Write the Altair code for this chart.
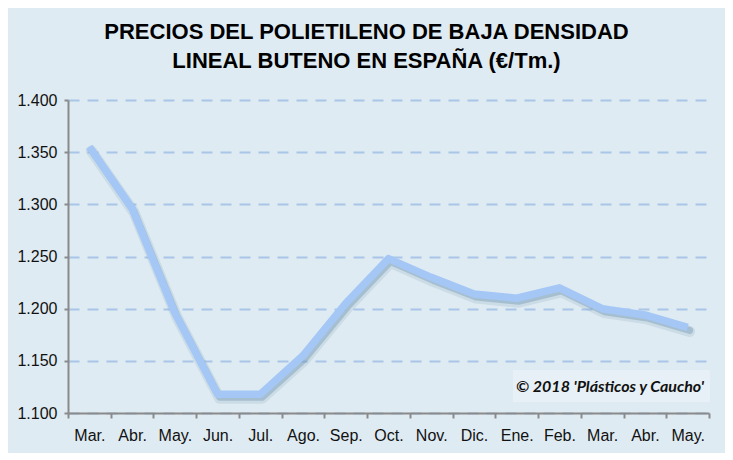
import altair as alt
import pandas as pd

months = ["Mar.", "Abr.", "May.", "Jun.", "Jul.", "Ago.", "Sep.", "Oct.",
          "Nov.", "Dic.", "Ene.", "Feb.", "Mar.", "Abr.", "May."]
prices = [1355, 1296, 1196, 1118, 1118, 1155, 1205, 1248,
          1230, 1214, 1210, 1220, 1200, 1194, 1182]
y_ticks = [1100, 1150, 1200, 1250, 1300, 1350, 1400]
title_lines = ["PRECIOS DEL POLIETILENO DE BAJA DENSIDAD",
               "LINEAL BUTENO EN ESPAÑA (€/Tm.)"]
credit = ["© 2018 'Plásticos y Caucho'"]

df = pd.DataFrame({"idx": list(range(len(months))), "month": months, "price": prices})
label_expr = "[" + ",".join("'%s'" % m for m in months) + "][datum.value]"

BG = "#dfebf2"
AXIS = "#8a8a8a"

x_enc = alt.X("idx:O",
              scale=alt.Scale(paddingInner=0, paddingOuter=0),
              axis=alt.Axis(title=None, labelAngle=0, tickBand="extent",
                            labelExpr=label_expr, domainColor=AXIS, domainWidth=2,
                            tickColor=AXIS, tickWidth=2, tickSize=5,
                            labelFont="Liberation Sans", labelFontSize=16,
                            labelColor="#111111", labelPadding=9, grid=False))
y_enc = alt.Y("price:Q",
              scale=alt.Scale(domain=[1100, 1400], nice=False, zero=False),
              axis=alt.Axis(title=None, values=y_ticks,
                            labelExpr="replace(format(datum.value, ','), ',', '.')",
                            grid=True, gridDash=[11, 8], gridColor="#a9c5e8", gridWidth=2,
                            domainColor=AXIS, domainWidth=2, tickColor=AXIS, tickWidth=2,
                            tickSize=4, labelFont="Liberation Sans", labelFontSize=16,
                            labelColor="#111111", labelPadding=7))

base = alt.Chart(df)
shadow1 = base.mark_line(color="#7f9fb8", strokeWidth=11, opacity=0.2,
                         xOffset=2, yOffset=4, strokeJoin="round", strokeCap="round").encode(x=x_enc, y=y_enc)
shadow2 = base.mark_line(color="#6f93ae", strokeWidth=7, opacity=0.4,
                         xOffset=2, yOffset=3, strokeJoin="round", strokeCap="round").encode(x=x_enc, y=y_enc)
line = base.mark_line(color="#a4c7f5", strokeWidth=7.5, strokeJoin="round").encode(x=x_enc, y=y_enc)

cdf = pd.DataFrame({"t": credit})
box = alt.Chart(cdf).mark_rect(color="#e7f0f6").encode(
    x=alt.value(445), x2=alt.value(642), y=alt.value(270), y2=alt.value(302))
txt = alt.Chart(cdf).mark_text(align="right", baseline="middle", font="Lato",
                               fontSize=16, fontWeight="bold", fontStyle="italic",
                               color="#111111").encode(
    x=alt.value(636), y=alt.value(287), text="t:N")

chart = alt.layer(shadow1, shadow2, line, box, txt).properties(
    width=641, height=313,
    title=alt.TitleParams(title_lines, font="Liberation Sans", fontSize=22,
                          fontWeight="bold", color="#000000", anchor="middle",
                          dx=-22, lineHeight=29, offset=19),
    background=BG,
    padding={"left": 60, "top": 92, "right": 16, "bottom": 40},
    autosize=alt.AutoSizeParams(type="none"),
).configure_view(stroke=None)

chart.save("out.html", embed_options={"renderer": "svg", "actions": False})
